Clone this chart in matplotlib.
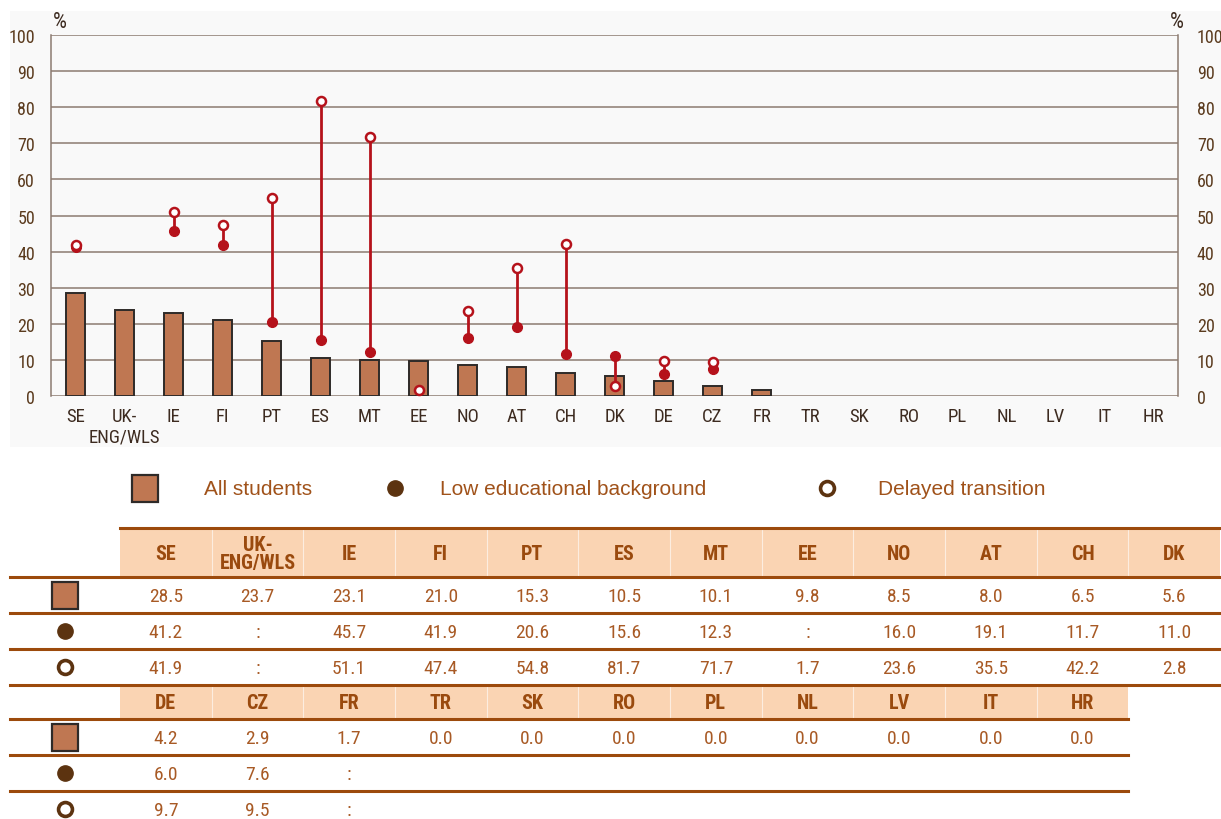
import matplotlib
matplotlib.use('Agg')
import matplotlib.pyplot as plt
import numpy as np
from matplotlib import font_manager as fm
from matplotlib.patches import Rectangle


def pick(cands):
    for c in cands:
        try:
            fm.findfont(fm.FontProperties(family=c), fallback_to_default=False)
            return c
        except Exception:
            pass
    return 'DejaVu Sans'


NARROW = pick(['Liberation Sans Narrow', 'Roboto Condensed', 'Open Sans Condensed', 'Liberation Sans'])
SANS = pick(['Liberation Sans', 'Arial', 'DejaVu Sans'])

# ---------------- data ----------------
countries = ['SE', 'UK-\nENG/WLS', 'IE', 'FI', 'PT', 'ES', 'MT', 'EE', 'NO', 'AT', 'CH', 'DK',
             'DE', 'CZ', 'FR', 'TR', 'SK', 'RO', 'PL', 'NL', 'LV', 'IT', 'HR']
all_students = [28.5, 23.7, 23.1, 21.0, 15.3, 10.5, 10.1, 9.8, 8.5, 8.0, 6.5, 5.6,
                4.2, 2.9, 1.7, 0.0, 0.0, 0.0, 0.0, 0.0, 0.0, 0.0, 0.0]
# np.nan -> ':' (not available), None -> blank cell
NA = np.nan
low_edu = [41.2, NA, 45.7, 41.9, 20.6, 15.6, 12.3, NA, 16.0, 19.1, 11.7, 11.0,
           6.0, 7.6, NA, None, None, None, None, None, None, None, None]
delayed = [41.9, NA, 51.1, 47.4, 54.8, 81.7, 71.7, 1.7, 23.6, 35.5, 42.2, 2.8,
           9.7, 9.5, NA, None, None, None, None, None, None, None, None]
yticks = [0, 10, 20, 30, 40, 50, 60, 70, 80, 90, 100]
legend_labels = ['All students', 'Low educational background', 'Delayed transition']

# ---------------- style ----------------
W, H = 1221, 820
BAR = '#bf7752'
BAR_EDGE = '#2e2a28'
RED = '#b5121b'
GRID = '#8c7b70'
TICK = '#5b3b1e'
XLAB = '#3d2b20'
DOT = '#5c3310'
LEG_TXT = '#a0521a'
HEAD_FILL = '#fad4b3'
HEAD_TXT = '#9a4a0e'
CELL_TXT = '#a85a25'
RULE = '#9c4a0c'
BG = '#f9f9f9'

fig = plt.figure(figsize=(W / 100, H / 100), dpi=100)
fig.patch.set_facecolor('white')
fig.patches.append(Rectangle((10 / W, 1 - 448 / H), (W - 10) / W, (448 - 12) / H,
                             transform=fig.transFigure, facecolor=BG, edgecolor='none', zorder=-10))

ax = fig.add_axes([51 / W, 1 - 397 / H, 1127 / W, 361 / H])
ax.set_facecolor(BG)
x = np.arange(len(countries))
low_arr = np.array([np.nan if v is None else v for v in low_edu], dtype=float)
del_arr = np.array([np.nan if v is None else v for v in delayed], dtype=float)

bar_lw = [1.4 if v > 0 else 0 for v in all_students]
ax.bar(x, all_students, width=0.4, color=BAR, edgecolor=BAR_EDGE, linewidth=bar_lw, zorder=3)
both = ~np.isnan(low_arr) & ~np.isnan(del_arr)
ax.vlines(x[both], low_arr[both], del_arr[both], color=RED, linewidth=2, zorder=4)
ax.plot(x, low_arr, 'o', ls='none', color=RED, ms=7, zorder=5)
ax.plot(x, del_arr, 'o', ls='none', mfc='white', mec=RED, ms=6.5, mew=1.8, zorder=6)

ax.set_xlim(-0.5, len(countries) - 0.5)
ax.set_ylim(0, 100)
ax.set_yticks(yticks)
ax.set_yticklabels([str(t) for t in yticks])
ax.yaxis.grid(True, color=GRID, linewidth=1.1, zorder=0)
ax.set_axisbelow(True)
ax.set_xticks(x)
ax.set_xticklabels(countries, fontsize=13.5, color=XLAB, family=NARROW, linespacing=1.2)
ax.tick_params(axis='x', length=0, pad=8)
ax.tick_params(axis='y', length=0, pad=11.5, labelsize=13, labelcolor=TICK)
for lab in ax.get_yticklabels():
    lab.set_family(NARROW)
for s in ['top', 'bottom']:
    ax.spines[s].set_visible(False)
for s in ['left', 'right']:
    ax.spines[s].set_color(GRID)
    ax.spines[s].set_linewidth(1.1)

ax2 = ax.twinx()
ax2.set_ylim(0, 100)
ax2.set_yticks(yticks)
ax2.set_yticklabels([str(t) for t in yticks])
ax2.tick_params(axis='y', length=0, pad=13.5, labelsize=13, labelcolor=TICK)
for lab in ax2.get_yticklabels():
    lab.set_family(NARROW)
for s in ax2.spines.values():
    s.set_visible(False)

# ---------------- overlay (legend + table) ----------------
ov = fig.add_axes([0, 0, 1, 1])
ov.set_xlim(0, W)
ov.set_ylim(H, 0)
ov.axis('off')
ov.patch.set_visible(False)

ov.text(53, 23, '%', fontsize=16, color=XLAB, family=NARROW, ha='left', va='center')
ov.text(1184, 23, '%', fontsize=16, color=XLAB, family=NARROW, ha='right', va='center')


def icon(kind, cx, cy):
    if kind == 0:
        ov.add_patch(Rectangle((cx - 13, cy - 13.5), 26, 27, facecolor=BAR, edgecolor=BAR_EDGE, lw=1.6))
    elif kind == 1:
        ov.plot(cx, cy, 'o', color=DOT, ms=11)
    else:
        ov.plot(cx, cy, 'o', mfc='white', mec=DOT, ms=10, mew=2.6)


# legend
leg_icons = [145, 395, 827]
leg_text_x = [204, 440, 878]
for i, lab in enumerate(legend_labels):
    icon(i, leg_icons[i], 489)
    ov.text(leg_text_x[i], 490, lab, fontsize=15, color=LEG_TXT, family=SANS, ha='left', va='center')

# table
col0 = 120
cw = (1220 - 120) / 12


def fmt(v):
    if v is None:
        return ''
    if isinstance(v, float) and np.isnan(v):
        return ':'
    return f'{v:.1f}'


blocks = [(0, 12, 529, 578, [578, 614, 650, 686]),
          (12, 23, 686, 720, [720, 756, 792, 828])]
for bi, (i0, i1, htop, hbot, rows) in enumerate(blocks):
    n = i1 - i0
    right = col0 + n * cw
    ov.add_patch(Rectangle((col0, htop), right - col0, hbot - htop, facecolor=HEAD_FILL,
                           edgecolor='none', zorder=1))
    for k in range(1, n):
        ov.plot([col0 + k * cw] * 2, [htop + 1, hbot - 1], color='white', lw=0.8, alpha=0.6, zorder=1.5)
    if bi == 0:
        ov.plot([col0, right], [htop, htop], color=RULE, lw=2.2, zorder=3)
    for j, i in enumerate(range(i0, i1)):
        cx = col0 + (j + 0.5) * cw
        ov.text(cx, (htop + hbot) / 2 + 1, countries[i], fontsize=14.5, fontweight='bold', color=HEAD_TXT,
                family=NARROW, ha='center', va='center', linespacing=0.95, zorder=4)
        series = [all_students[i], low_edu[i], delayed[i]]
        for r in range(3):
            cy = (rows[r] + rows[r + 1]) / 2 + 1
            ov.text(cx, cy, fmt(series[r]), fontsize=14, color=CELL_TXT, family=NARROW,
                    ha='center', va='center', zorder=4)
    for r in range(3):
        cy = (rows[r] + rows[r + 1]) / 2
        icon(r, 65, cy)
    line_right = 1220 if bi == 0 else right
    for r in range(3):
        ov.plot([10, line_right if not (bi == 0 and r == 2) else 1220], [rows[r], rows[r]],
                color=RULE, lw=2.2, zorder=3)
    if bi == 0:
        ov.plot([10, 1220], [rows[3], rows[3]], color=RULE, lw=2.2, zorder=3)

fig.savefig('out.png', dpi=100)
